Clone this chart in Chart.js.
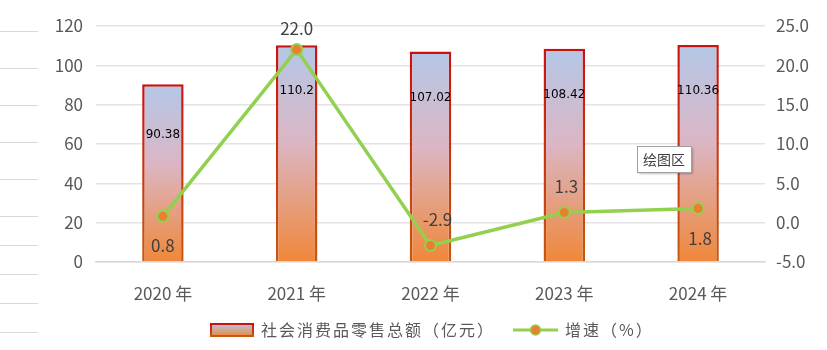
<!DOCTYPE html>
<html lang="zh">
<head>
    <meta charset="UTF-8">
    <title>社会消费品零售总额</title>
    <style>
        html, body { margin: 0; padding: 0; background: #fff; }
        #wrap { width: 827px; height: 350px; position: relative; }
    </style>
</head>
<body>
    <div id="wrap"><canvas id="chart" width="827" height="350"></canvas></div>

    <script src="https://cdn.jsdelivr.net/npm/chart.js"></script>
    <script>
        // Data
        const years = ['2020 年', '2021 年', '2022 年', '2023 年', '2024 年'];
        const retailTotal = [90.38, 110.2, 107.02, 108.42, 110.36];
        const growthRate = [0.8, 22.0, -2.9, 1.3, 1.8];
        const retailLabel = '社会消费品零售总额（亿元）';
        const growthLabel = '增速（%）';

        const FONT = '"Noto Sans CJK SC", "Noto Sans", sans-serif';
        const GREEN = '#92d050';
        const ORANGE = '#ed7d31';

        function barGradient(ctx, top, bottom, c1, c2) {
            const g = ctx.createLinearGradient(0, top, 0, bottom);
            g.addColorStop(0, c1);
            g.addColorStop(1, c2);
            return g;
        }

        function barFill(context) {
            const chart = context.chart;
            if (!chart.chartArea) return '#d9b0b0';
            const y = chart.scales.y;
            const top = y.getPixelForValue(retailTotal[context.dataIndex]);
            const bottom = y.getPixelForValue(0);
            const g = chart.ctx.createLinearGradient(0, top, 0, bottom);
            g.addColorStop(0, '#b4c7e7');
            g.addColorStop(0.45, '#dbb6c4');
            g.addColorStop(1, '#f0873a');
            return g;
        }

        function barBorder(context) {
            const chart = context.chart;
            if (!chart.chartArea) return '#c00000';
            const y = chart.scales.y;
            const top = y.getPixelForValue(retailTotal[context.dataIndex]);
            const bottom = y.getPixelForValue(0);
            return barGradient(chart.ctx, top, bottom, '#cc1010', '#c55a11');
        }

        // labels, legend, left-side stray lines and the small "绘图区" box
        const extras = {
            id: 'extras',
            afterDatasetsDraw(chart) {
                const ctx = chart.ctx;
                const bars = chart.getDatasetMeta(1).data;
                const pts = chart.getDatasetMeta(0).data;
                ctx.save();
                ctx.textAlign = 'center';
                ctx.textBaseline = 'middle';

                ctx.font = '12px "DejaVu Sans", sans-serif';
                ctx.fillStyle = '#000';
                bars.forEach((b, i) => {
                    const off = i === 0 ? 51 : 46;
                    ctx.fillText(String(retailTotal[i]), b.x, b.y + off);
                });

                ctx.font = '17px ' + FONT;
                ctx.fillStyle = '#404040';
                const offs = [[0, 29], [0, -21], [7, -26], [2, -26], [2, 30]];
                pts.forEach((p, i) => {
                    ctx.fillText(growthRate[i].toFixed(1), p.x + offs[i][0], p.y + offs[i][1]);
                });

                // stray lines at the left edge
                ctx.strokeStyle = '#d9d9d9';
                ctx.lineWidth = 1;
                [31, 68, 105, 142, 179, 216, 245, 274, 303, 332].forEach(yy => {
                    ctx.beginPath();
                    ctx.moveTo(0, yy + 0.5);
                    ctx.lineTo(38, yy + 0.5);
                    ctx.stroke();
                });

                // plot area hint box
                ctx.shadowColor = 'rgba(0,0,0,0.25)';
                ctx.shadowOffsetX = 2;
                ctx.shadowOffsetY = 2;
                ctx.shadowBlur = 2;
                ctx.fillStyle = '#fff';
                ctx.fillRect(637, 146, 54, 26);
                ctx.shadowColor = 'transparent';
                ctx.strokeStyle = '#a0a0a0';
                ctx.strokeRect(637.5, 146.5, 54, 26);
                ctx.fillStyle = '#404040';
                ctx.font = '14px ' + FONT;
                ctx.fillText('绘图区', 664, 159.5);

                // legend
                const ly = 330;
                ctx.font = '16px ' + FONT;
                ctx.textAlign = 'left';
                ctx.letterSpacing = '2px';
                ctx.fillStyle = barGradient(ctx, ly - 6, ly + 6, '#b4c7e7', '#f0873a');
                ctx.fillRect(211, ly - 6, 42, 12);
                ctx.strokeStyle = barGradient(ctx, ly - 6, ly + 6, '#cc1010', '#c55a11');
                ctx.lineWidth = 2;
                ctx.strokeRect(211, ly - 6, 42, 12);
                ctx.fillStyle = '#595959';
                ctx.fillText(retailLabel, 261, ly);

                ctx.strokeStyle = GREEN;
                ctx.lineWidth = 3;
                ctx.beginPath();
                ctx.moveTo(513, ly);
                ctx.lineTo(558, ly);
                ctx.stroke();
                ctx.beginPath();
                ctx.arc(535.5, ly, 5, 0, Math.PI * 2);
                ctx.fillStyle = ORANGE;
                ctx.fill();
                ctx.lineWidth = 1.5;
                ctx.strokeStyle = GREEN;
                ctx.stroke();
                ctx.fillStyle = '#595959';
                ctx.fillText(growthLabel, 565, ly);
                ctx.restore();
            }
        };

        new Chart(document.getElementById('chart'), {
            data: {
                labels: years,
                datasets: [
                    {
                        type: 'line',
                        label: growthLabel,
                        data: growthRate,
                        yAxisID: 'y1',
                        borderColor: GREEN,
                        borderWidth: 3.5,
                        pointRadius: 5.5,
                        pointBackgroundColor: ORANGE,
                        pointBorderColor: GREEN,
                        pointBorderWidth: 2,
                        tension: 0,
                        order: 0
                    },
                    {
                        type: 'bar',
                        label: retailLabel,
                        data: retailTotal,
                        yAxisID: 'y',
                        backgroundColor: barFill,
                        borderColor: barBorder,
                        borderWidth: 2.5,
                        categoryPercentage: 1,
                        barPercentage: 0.31,
                        order: 1
                    }
                ]
            },
            options: {
                responsive: false,
                animation: false,
                layout: { padding: { top: 26, left: 0, right: 0, bottom: 0 } },
                plugins: {
                    legend: { display: false },
                    tooltip: { enabled: false }
                },
                scales: {
                    x: {
                        grid: { display: false },
                        border: { color: '#d9d9d9', width: 1.5 },
                        ticks: { color: '#595959', font: { family: FONT, size: 17 }, padding: 13 },
                        afterFit(s) { s.height = 88; }
                    },
                    y: {
                        position: 'left',
                        min: 0,
                        max: 120,
                        ticks: { stepSize: 20, color: '#595959', font: { family: FONT, size: 17 }, padding: 13 },
                        grid: { color: '#e3e3e3', lineWidth: 1.5, drawTicks: false },
                        border: { display: false },
                        afterFit(s) { s.width = 96; }
                    },
                    y1: {
                        position: 'right',
                        min: -5,
                        max: 25,
                        ticks: {
                            stepSize: 5,
                            color: '#595959',
                            font: { family: FONT, size: 17 },
                            padding: 11,
                            callback: v => Number(v).toFixed(1)
                        },
                        grid: { display: false, drawTicks: false },
                        border: { display: false },
                        afterFit(s) { s.width = 62; }
                    }
                }
            },
            plugins: [extras]
        });
    </script>
</body>
</html>
